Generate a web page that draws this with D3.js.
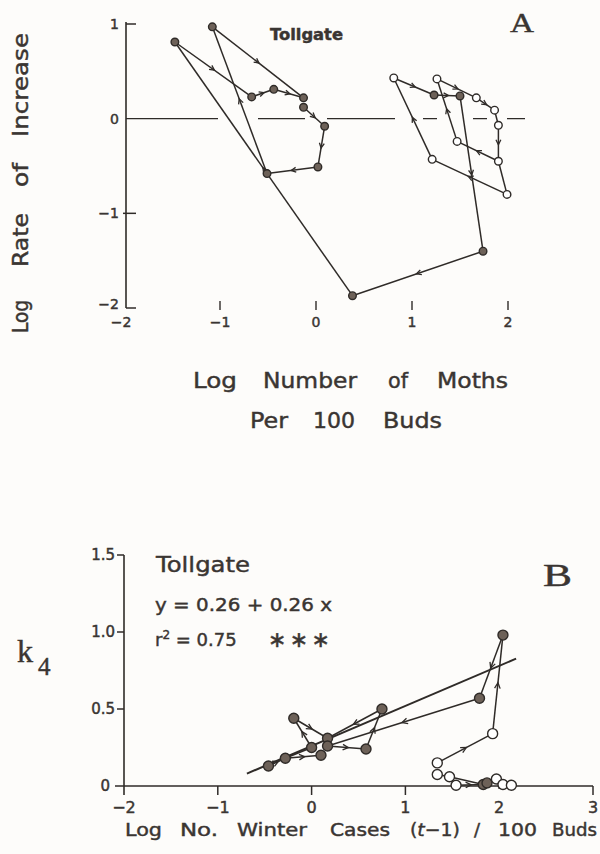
<!DOCTYPE html>
<html>
<head>
<meta charset="utf-8">
<script src="https://cdn.jsdelivr.net/npm/d3@7"></script>
<style>
  body { margin: 0; background: #fdfcfa; }
  svg { display: block; }
  text { stroke: #3a3532; stroke-width: 0.45px; }
</style>
</head>
<body>
<svg id="chart" width="600" height="854"></svg>
<script>
// ---------- Panel A: log rate of increase vs log moths per 100 buds ----------
// [id, log number of moths, log rate of increase, filled?]
const aPoints = [
  ["a1", -1.47, 0.81, true],
  ["a2", -1.08, 0.97, true],
  ["a3", -0.67, 0.23, true],
  ["a4", -0.44, 0.31, true],
  ["a5", -0.13, 0.22, true],
  ["a6", -0.13, 0.12, true],
  ["a7",  0.09, -0.08, true],
  ["a8",  0.02, -0.51, true],
  ["a9", -0.51, -0.58, true],
  ["a10", 0.38, -1.87, true],
  ["a11", 1.74, -1.40, true],
  ["c1",  1.23, 0.25, true],
  ["c2",  1.50, 0.24, true],
  ["b1",  0.81, 0.43, false],
  ["b2",  1.26, 0.42, false],
  ["b3",  1.67, 0.22, false],
  ["b4",  1.86, 0.09, false],
  ["b5",  1.90, -0.07, false],
  ["b6",  1.47, -0.24, false],
  ["b7",  1.90, -0.45, false],
  ["b8",  1.21, -0.43, false],
  ["b9",  1.99, -0.80, false]
];
// year-to-year trajectory: [from, to, arrow?]
const aLinks = [
  ["b9", "b8", true], ["b8", "b1", true], ["b1", "c1", true], ["c1", "c2", true],
  ["c2", "a11", true], ["a11", "a10", true], ["a10", "a1", true], ["a1", "a3", true],
  ["a3", "a4", true], ["a4", "a5", true],
  ["a6", "a7", true], ["a7", "a8", true], ["a8", "a9", true], ["a9", "a2", true],
  ["a2", "a5", true],
  ["b2", "b3", true], ["b3", "b4", true], ["b4", "b5", false], ["b5", "b7", true],
  ["b7", "b6", true], ["b6", "b2", true], ["b7", "b9", false]
];
const aXTicks = [-1, 0, 1, 2];
const aYTicks = [1, 0, -1, -2];

// ---------- Panel B: k4 vs log winter cases (t-1) ----------
// [id, log no. winter cases, k4, filled?]
const bPoints = [
  ["p1", -0.46, 0.13, true],
  ["p2", -0.28, 0.18, true],
  ["p3", -0.19, 0.44, true],
  ["p4",  0.00, 0.25, true],
  ["p5",  0.10, 0.20, true],
  ["p6",  0.17, 0.31, true],
  ["p7",  0.17, 0.26, true],
  ["p8",  0.58, 0.24, true],
  ["p9",  0.75, 0.50, true],
  ["p10", 1.79, 0.57, true],
  ["p11", 2.04, 0.98, true],
  ["o1",  1.93, 0.34, false],
  ["o2",  1.34, 0.15, false],
  ["o3",  1.34, 0.075, false],
  ["o4",  1.47, 0.06, false],
  ["o5",  1.54, 0.005, false],
  ["f12", 1.83, 0.01, true],
  ["f13", 1.87, 0.02, true],
  ["o7",  1.97, 0.045, false],
  ["o8",  2.04, 0.01, false],
  ["o9",  2.13, 0.005, false]
];
const bLinks = [
  ["p1", "p2", true], ["p2", "p4", false], ["p2", "p5", true], ["p3", "p6", true],
  ["p4", "p3", true], ["p7", "p8", true], ["p8", "p9", true], ["p9", "p6", true],
  ["p10", "p7", true], ["p11", "p10", true], ["o1", "p11", true], ["o2", "o1", true],
  ["o3", "o4", false], ["o4", "f12", false], ["o5", "f12", true]
];
// fitted line y = 0.26 + 0.26 x
const bFit = { intercept: 0.26, slope: 0.26, xFrom: -0.69, xTo: 2.18 };
const bXTicks = [-2, -1, 0, 1, 2, 3];
const bYTicks = [0, 0.5, 1.0, 1.5];

const ink = "#2f2b28";
const dotFill = "#6d6158";
const svg = d3.select("#chart");
svg.append("rect").attr("width", 600).attr("height", 854).attr("fill", "#fdfcfa").attr("stroke", "none");

function drawLinks(g, pts, links, x, y, arrowSize) {
  const byId = new Map(pts.map(p => [p[0], p]));
  links.forEach(([s, t, arrow]) => {
    const a = byId.get(s), b = byId.get(t);
    const x1 = x(a[1]), y1 = y(a[2]), x2 = x(b[1]), y2 = y(b[2]);
    g.append("line").attr("x1", x1).attr("y1", y1).attr("x2", x2).attr("y2", y2)
      .attr("stroke", ink).attr("stroke-width", 1.5);
    if (arrow) {
      const ang = Math.atan2(y2 - y1, x2 - x1) * 180 / Math.PI;
      const s2 = arrowSize;
      g.append("path")
        .attr("d", `M${-s2},${-s2 * 0.7}L${s2 * 0.4},0L${-s2},${s2 * 0.7}`)
        .attr("fill", "none").attr("stroke", ink).attr("stroke-width", 1.3)
        .attr("transform", `translate(${(x1 + x2) / 2},${(y1 + y2) / 2}) rotate(${ang})`);
    }
  });
}
function drawDots(g, pts, x, y, r) {
  g.selectAll("circle.dot").data(pts).join("circle")
    .attr("class", "dot")
    .attr("cx", d => x(d[1])).attr("cy", d => y(d[2])).attr("r", r)
    .attr("fill", d => d[3] ? dotFill : "#ffffff")
    .attr("stroke", ink).attr("stroke-width", 1.4);
}
function word(g, txt, x, y, len, size, opts = {}) {
  const t = g.append("text").attr("x", x).attr("y", y)
    .attr("font-family", opts.family || "DejaVu Sans")
    .attr("font-size", size).attr("fill", opts.fill || "#3a3532")
    .attr("font-weight", opts.weight || "normal")
    .text(txt);
  if (len) t.attr("textLength", len).attr("lengthAdjust", "spacingAndGlyphs");
  if (opts.anchor) t.attr("text-anchor", opts.anchor);
  return t;
}

// ================= Panel A =================
const xA = d3.scaleLinear().domain([-2, 2]).range([124, 508]);
const yA = d3.scaleLinear().domain([-2, 1]).range([308, 24]);
const gA = svg.append("g");

// vertical axis
const axX = 126;
gA.append("line").attr("x1", axX).attr("x2", axX).attr("y1", yA(1) - 2).attr("y2", yA(-2))
  .attr("stroke", ink).attr("stroke-width", 1.6);
aYTicks.forEach(v => {
  if (v !== 0) {
    gA.append("line").attr("x1", v === -1 ? axX - 3 : axX).attr("x2", axX + 10)
      .attr("y1", yA(v)).attr("y2", yA(v)).attr("stroke", ink).attr("stroke-width", 1.5);
  }
  word(gA, v < 0 ? "\u2212" + Math.abs(v) : String(v), 119, yA(v) + 5 - (v === -2 ? 4 : 0), null, 14, { anchor: "end" });
});
// zero reference line
gA.append("line").attr("x1", axX).attr("x2", 526).attr("y1", yA(0)).attr("y2", yA(0))
  .attr("stroke", ink).attr("stroke-width", 1.4)
  .attr("stroke-dasharray", "92,40,47,22,68,28,14,36,14,20,18");
// bottom ticks (no baseline)
aXTicks.forEach(v => {
  gA.append("line").attr("x1", xA(v)).attr("x2", xA(v)).attr("y1", 301).attr("y2", 310)
    .attr("stroke", ink).attr("stroke-width", 1.4);
});
[-2, ...aXTicks].forEach(v => {
  word(gA, v < 0 ? "\u2212" + Math.abs(v) : String(v), v === -2 ? 121 : xA(v), 327, null, 14, { anchor: "middle" });
});

drawLinks(gA, aPoints, aLinks, xA, yA, 3.5);
drawDots(gA, aPoints, xA, yA, 3.8);

word(gA, "Tollgate", 270, 40, 73, 15, { weight: "bold" });
word(gA, "A", 510, 32, 24, 28, { family: "Liberation Serif" });

// axis titles
[["Log", 193, 44], ["Number", 263, 94], ["of", 388, 20], ["Moths", 437, 71]]
  .forEach(([t, x, l]) => word(gA, t, x, 388, l, 21));
[["Per", 250, 38], ["100", 313, 42], ["Buds", 383, 59]]
  .forEach(([t, x, l]) => word(gA, t, x, 428, l, 21));
[["Log", 316.5, 33], ["Rate", 240, 54], ["of", 175, 24], ["Increase", 85, 104]]
  .forEach(([t, c, l]) => {
    gA.append("text").attr("transform", `translate(28,${c}) rotate(-90)`)
      .attr("text-anchor", "middle").attr("font-family", "DejaVu Sans")
      .attr("font-size", 21).attr("fill", "#3a3532")
      .attr("textLength", l).attr("lengthAdjust", "spacingAndGlyphs").text(t);
  });

// ================= Panel B =================
const xB = d3.scaleLinear().domain([-2, 3]).range([124, 593]);
const yB = d3.scaleLinear().domain([0, 1.5]).range([786, 555]);
const gB = svg.append("g");

// axes
gB.append("line").attr("x1", xB(-2)).attr("x2", xB(-2)).attr("y1", yB(1.5)).attr("y2", yB(0) + 9)
  .attr("stroke", ink).attr("stroke-width", 1.6);
gB.append("line").attr("x1", xB(-2) - 9).attr("x2", xB(3)).attr("y1", yB(0)).attr("y2", yB(0))
  .attr("stroke", ink).attr("stroke-width", 1.6);
bYTicks.forEach(v => {
  if (v > 0) gB.append("line").attr("x1", xB(-2) - 7).attr("x2", xB(-2)).attr("y1", yB(v)).attr("y2", yB(v))
    .attr("stroke", ink).attr("stroke-width", 1.5);
  word(gB, v === 0 ? "0" : v.toFixed(1), v === 0 ? 110 : 115, yB(v) + 5, null, 15, { anchor: "end" });
});
bXTicks.forEach(v => {
  if (v > -2) gB.append("line").attr("x1", xB(v)).attr("x2", xB(v)).attr("y1", yB(0)).attr("y2", yB(0) + (v === 2 ? 3 : 9))
    .attr("stroke", ink).attr("stroke-width", 1.5);
  word(gB, v < 0 ? "\u2212" + Math.abs(v) : String(v), xB(v), 813, null, 16, { anchor: "middle" });
});

// fitted regression line
gB.append("line")
  .attr("x1", xB(bFit.xFrom)).attr("y1", yB(bFit.intercept + bFit.slope * bFit.xFrom))
  .attr("x2", xB(bFit.xTo)).attr("y2", yB(bFit.intercept + bFit.slope * bFit.xTo))
  .attr("stroke", ink).attr("stroke-width", 2);

drawLinks(gB, bPoints, bLinks, xB, yB, 4);
drawDots(gB, bPoints, xB, yB, 5);

word(gB, "Tollgate", 156, 572, 94, 22);
word(gB, "y = 0.26 +  0.26 x", 155, 611, 177, 18);
const r2 = gB.append("text").attr("x", 155).attr("y", 646)
  .attr("font-family", "DejaVu Sans").attr("font-size", 18).attr("fill", "#3a3532");
r2.append("tspan").text("r");
r2.append("tspan").attr("dy", -7).attr("font-size", 12).text("2");
r2.append("tspan").attr("dy", 7).text(" = 0.75");
gB.append("text").attr("x", 268).attr("y", 647).attr("font-family", "DejaVu Sans")
  .attr("font-size", 22).attr("fill", "#3a3532")
  .attr("textLength", 62).attr("lengthAdjust", "spacing").text("\u2217 \u2217 \u2217");
word(gB, "B", 543, 586, 29, 31, { family: "Liberation Serif" });
word(gB, "k", 17, 662, null, 32, { family: "Liberation Serif" });
word(gB, "4", 38, 675, null, 25, { family: "Liberation Serif" });

// x title
[["Log", 125, 37], ["No.", 180, 38], ["Winter", 237, 70], ["Cases", 330, 60],
 ["100", 498, 39], ["Buds", 552, 45]]
  .forEach(([t, x, l]) => word(gB, t, x, 836, l, 18));
word(gB, "/", 474, 836, null, 18);
const paren = gB.append("text").attr("x", 410).attr("y", 836).attr("font-family", "DejaVu Sans")
  .attr("font-size", 18).attr("fill", "#3a3532").attr("textLength", 50).attr("lengthAdjust", "spacingAndGlyphs");
paren.append("tspan").text("(");
paren.append("tspan").attr("font-style", "italic").text("t");
paren.append("tspan").text("\u22121)");
</script>
</body>
</html>
